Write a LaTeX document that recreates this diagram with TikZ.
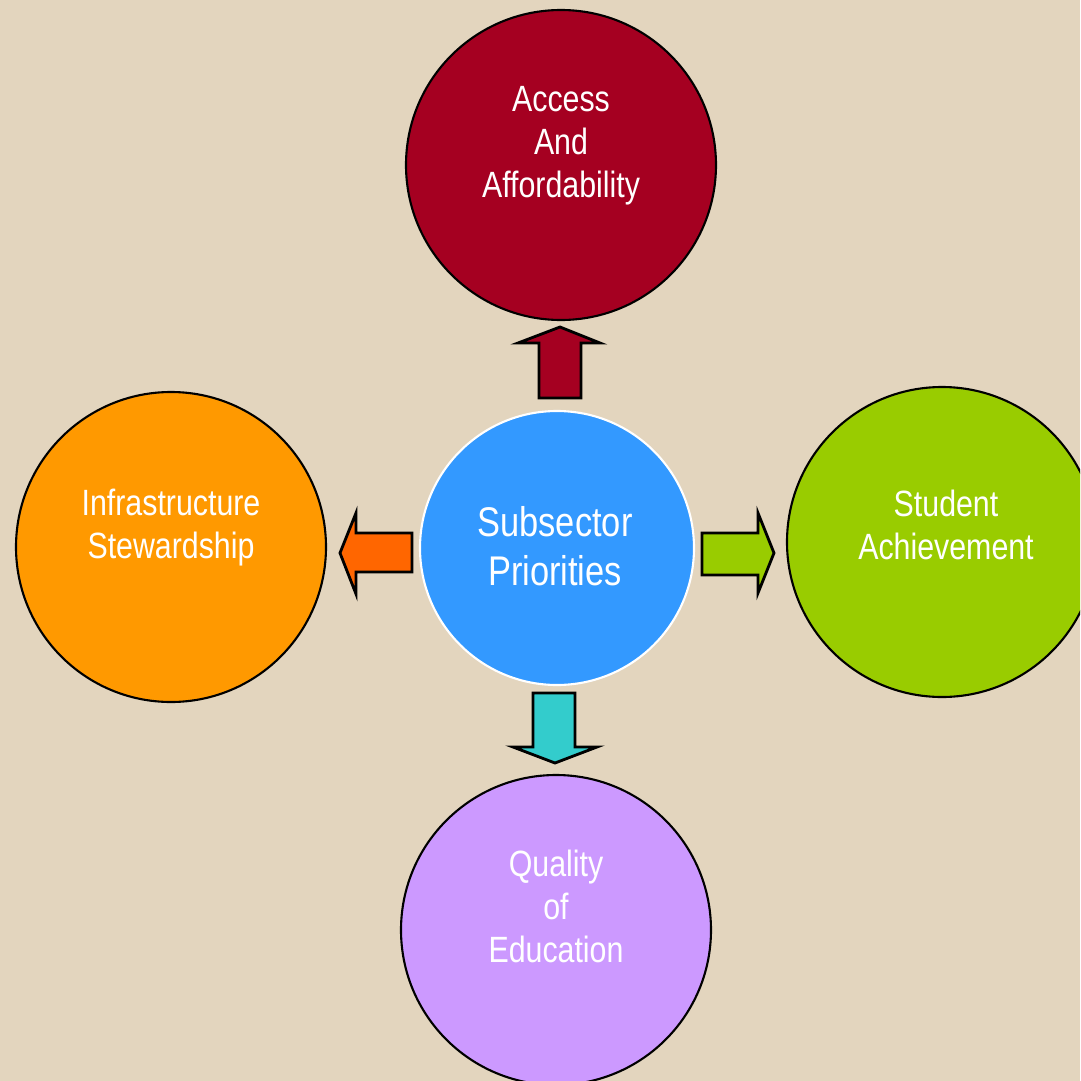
\documentclass[tikz,border=0pt]{standalone}
\usepackage{fontspec}
\setmainfont{Liberation Sans}[FakeStretch=0.83]
\usetikzlibrary{positioning}
\definecolor{bgtan}{HTML}{E3D5BE}
\definecolor{accessred}{HTML}{A50021}
\definecolor{infraorange}{HTML}{FF9900}
\definecolor{arroworange}{HTML}{FF6600}
\definecolor{studentgreen}{HTML}{99CC00}
\definecolor{qualitylilac}{HTML}{CC99FF}
\definecolor{prioblue}{HTML}{3399FF}
\definecolor{arrowteal}{HTML}{33CCCC}
\begin{document}
\begin{tikzpicture}[x=0.1mm, y=-0.1mm,
  bubble/.style={circle, draw=black, line width=0.6pt, minimum size=31mm, inner sep=0pt},
  btext/.style={text=white, align=center, font=\fontsize{10.4}{12.2}\selectfont},
  blockarrow/.style={draw=black, line width=0.8pt, line join=miter}]
\useasboundingbox (0,0) rectangle (1080,1081);
\clip (0,0) rectangle (1080,1081);
\fill[bgtan] (0,0) rectangle (1080,1081);
% outer circles
\node[bubble, fill=accessred] (access) at (561,165) {};
\node[bubble, fill=infraorange] (infra) at (171,547) {};
\node[bubble, fill=studentgreen] (student) at (942,542) {};
\node[bubble, fill=qualitylilac] (quality) at (556,930) {};
% centre circle
\node[bubble, fill=prioblue, draw=white, minimum size=27.4mm] (prio) at (557,548) {};
% labels
\node[btext] (accesstext) at ([yshift=1.95mm]access.center) {Access\\And\\Affordability};
\node[btext] (infratext) at ([yshift=1.95mm]infra.center) {Infrastructure\\Stewardship};
\node[btext] (studenttext) at ([xshift=0.4mm, yshift=1.7mm]student.center) {Student\\Achievement};
\node[btext] (qualitytext) at ([yshift=2.35mm]quality.center) {Quality\\of\\Education};
\node[btext, font=\fontsize{11.8}{13.8}\selectfont] (priotext) at ([xshift=-0.2mm, yshift=0.2mm]prio.center) {Subsector\\Priorities};
% block arrows
\draw[blockarrow, fill=accessred] (539,398) -- (539,343) -- (518,343) -- (560,327) -- (600,343) -- (581,343) -- (581,398) -- cycle;
\draw[blockarrow, fill=arroworange] (412,533) -- (356,533) -- (356,513) -- (340,553) -- (356,594) -- (356,572) -- (412,572) -- cycle;
\draw[blockarrow, fill=studentgreen] (702,533) -- (758,533) -- (758,513) -- (774,553) -- (758,593) -- (758,575) -- (702,575) -- cycle;
\draw[blockarrow, fill=arrowteal] (533,693) -- (575,693) -- (575,747) -- (597,747) -- (555,763) -- (513,747) -- (533,747) -- cycle;
\end{tikzpicture}
\end{document}
